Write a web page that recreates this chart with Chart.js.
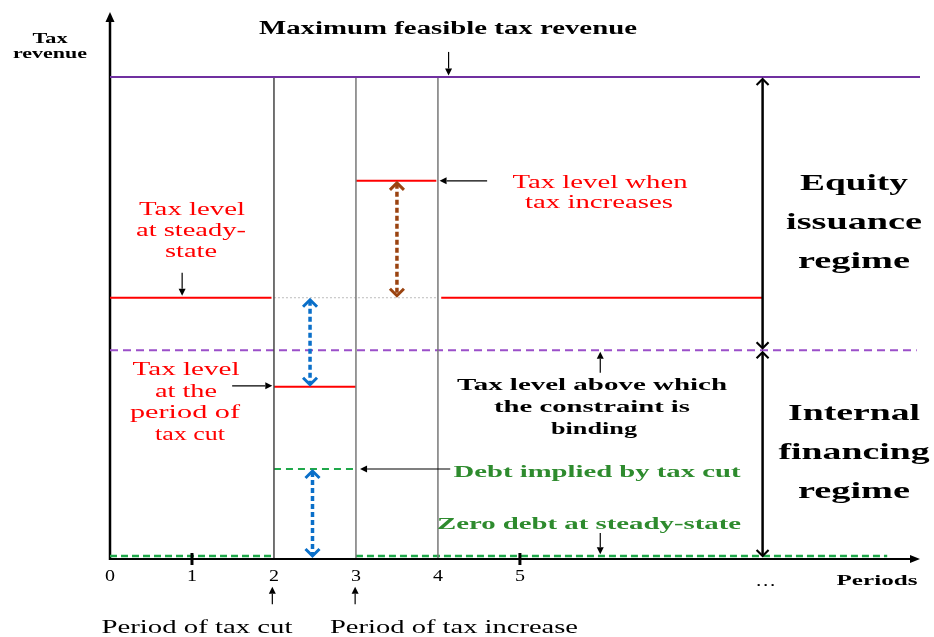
<!DOCTYPE html>
<html>
<head>
<meta charset="utf-8">
<script src="https://cdn.jsdelivr.net/npm/chart.js@4"></script>
<style>
  body { margin: 0; background: #fff; }
  canvas { display: block; }
</style>
</head>
<body>
<canvas id="taxChart" width="934" height="637"></canvas>
<script>
// values (tax revenue units, max feasible = 10)
const periodTicks = [0, 1, 2, 3, 4, 5];
const tickMarks = [1, 5];
const maxRevenue = 10;
const steadyTax = 5.41;
const constraintTax = 4.32;
const cutTax = 3.56;
const increaseTax = 7.84;
const cutDebt = 1.85;
const zeroDebt = 0.04;
const cutPeriod = 2;
const increasePeriod = 3;
const backPeriod = 4;
const steadyBefore = [0, 1.97];
const steadyAfter = [4.04, 7.96];
const increaseEnd = 3.98;
const regimeX = 7.96;
const zeroDebtEnd = 9.48;
const constraintEnd = 9.84;
const axisEnd = 9.88;
const boxTops = [[1, 2], [3, 4]];

const RED = "#ff0000";
const PURPLE = "#7030a0";
const GREEN_LINE = "#1fa84a";
const GREEN_TEXT = "#2e8b2e";
const SERIF = '"Liberation Serif", "Times New Roman", serif';

// helper: segments -> scatter points with gaps between them
function segs(list) {
  const out = [];
  list.forEach((s, i) => {
    if (i > 0) out.push({ x: (list[i - 1][2] + s[0]) / 2, y: null });
    out.push({ x: s[0], y: s[1] });
    out.push({ x: s[2], y: s[3] });
  });
  return out;
}

function lineSet(data, color, width, dash) {
  return {
    data: data,
    showLine: true,
    borderColor: color,
    borderWidth: width,
    borderDash: dash || [],
    pointRadius: 0,
    spanGaps: false,
    clip: false,
    tension: 0,
  };
}

const datasets = [
  lineSet(segs([[0, maxRevenue, axisEnd, maxRevenue]]), PURPLE, 2),
  lineSet(segs(boxTops.map(b => [b[0], maxRevenue, b[1], maxRevenue])), "#000", 1.5),
  lineSet(segs([[cutPeriod, 0, cutPeriod, maxRevenue]]), "#444", 1.5),
  lineSet(segs([[increasePeriod, 0, increasePeriod, maxRevenue]]), "#777", 1.5),
  lineSet(segs([[backPeriod, 0, backPeriod, maxRevenue]]), "#777", 1.5),
  lineSet(segs([[cutPeriod, steadyTax, backPeriod, steadyTax]]), "#bbb", 1, [2, 2]),
  lineSet(segs([[steadyBefore[0], steadyTax, steadyBefore[1], steadyTax],
                [steadyAfter[0], steadyTax, steadyAfter[1], steadyTax]]), RED, 2),
  lineSet(segs([[cutPeriod, cutTax, increasePeriod, cutTax]]), RED, 2),
  lineSet(segs([[increasePeriod, increaseTax, increaseEnd, increaseTax]]), RED, 2),
  lineSet(segs([[0, constraintTax, constraintEnd, constraintTax]]), "#9b4fc9", 2, [8, 5]),
  lineSet(segs([[cutPeriod, cutDebt, increasePeriod, cutDebt]]), GREEN_LINE, 2, [7, 5]),
  lineSet(segs([[0, zeroDebt, cutPeriod, zeroDebt], [increasePeriod, zeroDebt, zeroDebtEnd, zeroDebt]]), GREEN_LINE, 2.5, [7, 4]),
];

// texts: [text, centre x, baseline y, target width, font, colour]
const texts = [
  ["Tax", 50, 43, 35, "bold 14px", "#000"],
  ["revenue", 50, 58, 74, "bold 14px", "#000"],
  ["Maximum feasible tax revenue", 448, 34, 378, "bold 18px", "#000"],
  ["Tax level", 192, 215, 106, "18px", RED],
  ["at steady-", 191, 236, 110, "18px", RED],
  ["state", 191, 257, 52, "18px", RED],
  ["Tax level when", 600, 188, 175, "18px", RED],
  ["tax increases", 599, 208, 148, "18px", RED],
  ["Equity", 854, 190, 108, "bold 24px", "#000"],
  ["issuance", 854, 229, 136, "bold 24px", "#000"],
  ["regime", 854, 268, 112, "bold 24px", "#000"],
  ["Tax level above which", 592, 390, 270, "bold 17px", "#000"],
  ["the constraint is", 592, 412, 196, "bold 17px", "#000"],
  ["binding", 594, 434, 86, "bold 17px", "#000"],
  ["Internal", 854, 420, 132, "bold 24px", "#000"],
  ["financing", 854, 459, 151, "bold 24px", "#000"],
  ["regime", 854, 498, 112, "bold 24px", "#000"],
  ["Tax level", 186, 375, 107, "18px", RED],
  ["at the", 186, 397, 62, "18px", RED],
  ["period of", 185, 418, 110, "18px", RED],
  ["tax cut", 190, 440, 70, "18px", RED],
  ["Debt implied by tax cut", 597, 477, 287, "bold 17px", GREEN_TEXT],
  ["Zero debt at steady-state", 589, 529, 304, "bold 17px", GREEN_TEXT],
  ["Periods", 877, 585, 81, "bold 15px", "#000"],
  ["Period of tax cut", 197, 633, 191, "18px", "#000"],
  ["Period of tax increase", 454, 633, 248, "18px", "#000"],
];

// thin pointer arrows in data units: [x1, y1, x2, y2] (head at the second point)
const pointers = [
  [4.13, 10.52, 4.13, 10.03],
  [0.88, 5.93, 0.88, 5.45],
  [4.6, increaseTax, 4.02, increaseTax],
  [1.49, cutTax + 0.02, 1.98, cutTax + 0.02],
  [5.98, 3.85, 5.98, 4.29],
  [4.15, cutDebt, 3.05, cutDebt],
  [5.98, 0.52, 5.98, 0.08],
  [1.98, -0.96, 1.98, -0.6],
  [2.99, -0.96, 2.99, -0.6],
];

// double arrows: [x, yFrom, yTo, colour, width, dash]
const doubleArrows = [
  [regimeX, maxRevenue, constraintTax, "#000", 2.5, []],
  [regimeX, constraintTax, 0, "#000", 2.5, []],
  [2.44, steadyTax, cutTax, "#0a6fc9", 3.5, [5, 3]],
  [2.47, cutDebt, 0, "#0a6fc9", 3.5, [5, 3]],
  [3.5, increaseTax, steadyTax, "#9a4310", 3.5, [5, 3]],
];

// draw a line of text stretched horizontally to the width it has in the picture
function fitText(ctx, t) {
  ctx.font = t[4] + " " + SERIF;
  const w = ctx.measureText(t[0]).width;
  const sx = t[3] / w;
  ctx.save();
  ctx.fillStyle = t[5];
  ctx.textAlign = "left";
  ctx.textBaseline = "alphabetic";
  ctx.translate(t[1] - t[3] / 2, t[2]);
  ctx.scale(sx, 1);
  ctx.fillText(t[0], 0, 0);
  ctx.restore();
}

function thinArrow(ctx, x1, y1, x2, y2) {
  const a = Math.atan2(y2 - y1, x2 - x1);
  const L = 7, H = 3.5;
  ctx.strokeStyle = "#000";
  ctx.fillStyle = "#000";
  ctx.lineWidth = 1.2;
  ctx.setLineDash([]);
  ctx.beginPath();
  ctx.moveTo(x1, y1);
  ctx.lineTo(x2 - L * Math.cos(a), y2 - L * Math.sin(a));
  ctx.stroke();
  ctx.beginPath();
  ctx.moveTo(x2, y2);
  ctx.lineTo(x2 - L * Math.cos(a) - H * Math.sin(a), y2 - L * Math.sin(a) + H * Math.cos(a));
  ctx.lineTo(x2 - L * Math.cos(a) + H * Math.sin(a), y2 - L * Math.sin(a) - H * Math.cos(a));
  ctx.closePath();
  ctx.fill();
}

function chevron(ctx, x, y, dir, size) {
  // dir = -1 points up, +1 points down
  ctx.beginPath();
  ctx.moveTo(x - size, y - dir * size);
  ctx.lineTo(x, y);
  ctx.lineTo(x + size, y - dir * size);
  ctx.stroke();
}

const overlay = {
  id: "overlay",
  beforeDatasetsDraw(chart) {
    const ctx = chart.ctx;
    const xs = chart.scales.x, ys = chart.scales.y;
    const X = v => xs.getPixelForValue(v);
    const Y = v => ys.getPixelForValue(v);
    ctx.save();
    // axes with arrow heads
    const x0 = X(0), y0 = Y(0) + 1;
    ctx.strokeStyle = "#000";
    ctx.fillStyle = "#000";
    ctx.setLineDash([]);
    ctx.lineWidth = 2.5;
    ctx.beginPath();
    ctx.moveTo(x0, y0 + 1);
    ctx.lineTo(x0, chart.chartArea.top + 8);
    ctx.stroke();
    ctx.beginPath();
    ctx.moveTo(x0, chart.chartArea.top);
    ctx.lineTo(x0 - 4.5, chart.chartArea.top + 10);
    ctx.lineTo(x0 + 4.5, chart.chartArea.top + 10);
    ctx.closePath();
    ctx.fill();
    ctx.lineWidth = 2;
    ctx.beginPath();
    ctx.moveTo(x0, y0);
    ctx.lineTo(X(axisEnd) - 8, y0);
    ctx.stroke();
    ctx.beginPath();
    ctx.moveTo(X(axisEnd), y0);
    ctx.lineTo(X(axisEnd) - 10, y0 - 4);
    ctx.lineTo(X(axisEnd) - 10, y0 + 4);
    ctx.closePath();
    ctx.fill();
    ctx.restore();
  },
  afterDraw(chart) {
    const ctx = chart.ctx;
    const xs = chart.scales.x, ys = chart.scales.y;
    const X = v => xs.getPixelForValue(v);
    const Y = v => ys.getPixelForValue(v);
    const y0 = Y(0) + 1;
    ctx.save();

    // tick marks
    ctx.strokeStyle = "#000";
    ctx.lineWidth = 3;
    tickMarks.forEach(v => {
      ctx.beginPath();
      ctx.moveTo(X(v), y0 - 6);
      ctx.lineTo(X(v), y0 + 6);
      ctx.stroke();
    });

    // tick labels (stretched like the rest of the picture)
    ctx.font = "16px " + SERIF;
    ctx.textAlign = "center";
    ctx.textBaseline = "alphabetic";
    ctx.fillStyle = "#000";
    periodTicks.forEach(v => {
      ctx.save();
      ctx.translate(X(v), y0 + 22);
      ctx.scale(1.25, 1);
      ctx.fillText(String(v), 0, 0);
      ctx.restore();
    });
    ctx.save();
    ctx.translate(X(regimeX) + 3, y0 + 27);
    ctx.scale(1.3, 1);
    ctx.fillText("\u2026", 0, 0);
    ctx.restore();

    // double arrows
    doubleArrows.forEach(d => {
      const x = X(d[0]), ya = Y(d[1]), yb = Y(d[2]);
      const top = Math.min(ya, yb), bot = Math.max(ya, yb);
      ctx.strokeStyle = d[3];
      ctx.lineWidth = d[4];
      ctx.lineCap = "butt";
      ctx.setLineDash(d[5]);
      ctx.beginPath();
      ctx.moveTo(x, top + 3);
      ctx.lineTo(x, bot - 3);
      ctx.stroke();
      ctx.setLineDash([]);
      ctx.lineWidth = d[4] * 0.85;
      const s = d[3] === "#000" ? 6 : 7;
      chevron(ctx, x, top + 2, -1, s);
      chevron(ctx, x, bot - 2, 1, s);
    });

    // thin pointer arrows
    pointers.forEach(p => thinArrow(ctx, X(p[0]), Y(p[1]), X(p[2]), Y(p[3])));

    // texts
    texts.forEach(t => fitText(ctx, t));
    ctx.restore();
  },
};

new Chart(document.getElementById("taxChart"), {
  type: "scatter",
  data: { datasets: datasets },
  options: {
    responsive: false,
    animation: false,
    layout: { padding: { left: 110, right: 14, top: 12, bottom: 79 } },
    scales: {
      x: { type: "linear", min: 0, max: axisEnd, display: false },
      y: { type: "linear", min: 0, max: 11.35, display: false },
    },
    plugins: { legend: { display: false }, tooltip: { enabled: false } },
  },
  plugins: [overlay],
});
</script>
</body>
</html>
